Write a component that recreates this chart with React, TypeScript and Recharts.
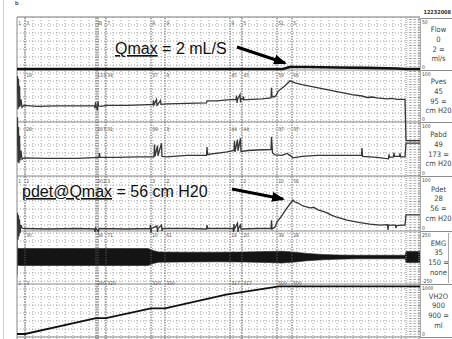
import React from 'react';
import {
  ComposedChart, Line, Area, XAxis, YAxis,
  ReferenceLine, ReferenceArea, ReferenceDot,
} from 'recharts';

// time in seconds along the trace
const eventTimes = [0, 16, 158, 162, 178, 268, 296, 426, 450, 520, 550];

const flowTags = ['1', '3', '3', '3', '7', '9', '9', '9', '5', '51', '5'];
const pvesTags = ['', '18', '133', '', '34', '37', '9', '45', '45', '59', '66'];
const pabdTags = ['', '28', '207', '', '31', '39', '3', '44', '44', '37', '37'];
const pdetTags = ['1', '2', '202', '', '3', '3', '2', '0', '2', '10', '56'];
const emgTags = ['', '30', '38', '', '71', '10', '61', '18', '20', '39', '28'];
const volTags = ['1', '3', '280', '', '320', '320', '330', '317', '317', '500', '500'];

const chanNames = ['Flow', 'Pves', 'Pabd', 'Pdet', 'EMG', 'VH2O'];
const chanNow = ['0', '45', '49', '28', '35', '900'];
const chanScale = ['2 =', '95 =', '173 =', '56 =', '150 =', '900 ='];
const chanUnits = ['ml/s', 'cm H20', 'cm H20', 'cm H20', 'none', 'ml'];
const chanTop = ['50', '100', '100', '100', '250', '1000'];
const chanBottom = ['0', '0', '0', '0', '-250', '0'];

// [t, value]
const flow = [
  [0, 0], [532, 0], [540, 1.2], [546, 2], [580, 2], [640, 1.6], [700, 1.1], [760, 0.5], [778, 0], [806, 0],
];

const pves = [
  [0, 56], [1, 92], [2, 24], [3, 86], [4, 28], [5, 72], [6, 30], [8, 44], [10, 28], [14, 32],
  [40, 30], [80, 31], [120, 31], [150, 31], [155, 31], [156, 26], [157, 38], [158, 31], [161, 22],
  [162, 40], [163, 31], [168, 30], [180, 32], [220, 32], [250, 33], [272, 34], [273, 42], [274, 33],
  [279, 44], [280, 32], [281, 33], [287, 42], [288, 34], [300, 35], [340, 36], [379, 37], [380, 41],
  [400, 41], [420, 43], [438, 44], [439, 52], [440, 37], [441, 44], [446, 54], [447, 38], [448, 46],
  [452, 44], [453, 50], [454, 43], [470, 44], [490, 45], [508, 47], [509, 68], [510, 50], [514, 49],
  [518, 52], [522, 60], [526, 64], [536, 72], [546, 82], [556, 78], [570, 74], [590, 70], [610, 66],
  [630, 62], [650, 58], [670, 54], [690, 51], [700, 48], [710, 49], [720, 47], [730, 46], [740, 45],
  [750, 46], [760, 44], [776, 44], [778, -40], [806, -40],
];

const pabd = [
  [0, 60], [1, 118], [2, 26], [3, 98], [4, 24], [5, 80], [6, 30], [8, 50], [10, 32], [14, 35],
  [60, 34], [120, 34], [164, 36], [165, 45], [166, 36], [200, 36], [240, 37], [274, 37], [275, 62],
  [276, 38], [281, 60], [282, 39], [289, 65], [290, 38], [300, 37], [340, 40], [379, 40], [380, 57],
  [381, 42], [406, 45], [420, 47], [434, 50], [435, 70], [436, 47], [441, 72], [442, 49], [447, 75],
  [448, 48], [462, 50], [480, 51], [508, 52], [509, 78], [511, 45], [516, 41], [530, 40], [540, 44],
  [546, 40], [552, 35], [570, 38], [600, 40], [640, 40], [689, 40], [690, 55], [691, 38], [720, 36],
  [743, 33], [744, 42], [745, 36], [753, 37], [754, 45], [755, 38], [765, 38], [766, 44], [767, 37],
  [776, 37], [778, 65], [806, 65],
];

const pdet = [
  [0, 10], [1, 33], [2, -22], [3, 28], [4, -15], [5, 20], [6, -8], [8, 8], [10, 2], [14, 1],
  [60, 0], [120, 1], [155, 0], [156, -6], [157, 2], [163, -5], [164, 1], [220, 0], [266, 1],
  [267, 8], [268, -8], [269, 1], [280, 6], [281, -6], [282, 1], [289, 8], [290, -4], [291, 1],
  [340, 1], [379, 0], [380, 8], [381, 1], [432, 1], [433, -6], [434, 10], [435, 0], [441, 12],
  [442, -6], [443, 1], [447, 8], [448, 0], [480, 1], [508, 1], [509, 18], [510, 0], [516, 4],
  [520, 14], [526, 22], [530, 28], [540, 43], [552, 59], [556, 55], [562, 53], [572, 47], [586, 43],
  [594, 44], [602, 39], [612, 36], [620, 33], [630, 28], [640, 24], [660, 18], [686, 13], [706, 10],
  [726, 8], [741, 9], [742, -2], [743, 8], [752, 8], [757, 8], [758, 2], [759, 7], [772, 8],
  [776, 8], [778, 29], [806, 29],
];

// [t, low, high] envelope of the EMG band
const emg = [
  [0, -200, 250], [1, -80, 90], [4, -85, 85], [100, -85, 85], [200, -85, 85], [262, -85, 85],
  [272, -65, 65], [284, -52, 50], [330, -50, 48], [400, -48, 48], [452, -50, 50], [500, -55, 55],
  [530, -60, 58], [556, -50, 48], [580, -38, 36], [610, -28, 26], [640, -22, 20], [680, -18, 17],
  [776, -18, 17], [778, -55, 55], [806, -55, 55],
];

const vol = [
  [0, 0], [16, 0], [158, 300], [178, 300], [268, 485], [296, 485], [418, 745], [450, 790], [524, 900], [806, 900],
];

// ---- layout ----
const W = 452;
const H = 339;
const TOP = 17;
const BOTTOM = 339;
const T_MAX = 806;

// domain that puts v0 at pixel y0 and v1 at pixel y1 on the full-height plot
const band = (v0: number, y0: number, v1: number, y1: number): [number, number] => {
  const k = (v1 - v0) / (y0 - y1);
  return [v0 - (BOTTOM - y0) * k, v1 + (y1 - TOP) * k];
};

const channels = [
  { id: 'flow', domain: band(0, 69, 50, 20), tag: 47, tags: flowTags },
  { id: 'pves', domain: band(0, 121, 100, 72), tag: 94, tags: pvesTags },
  { id: 'pabd', domain: band(0, 175, 100, 126), tag: 94, tags: pabdTags },
  { id: 'pdet', domain: band(0, 229, 100, 180), tag: 97, tags: pdetTags },
  { id: 'emg', domain: band(-250, 282, 250, 232), tag: 220, tags: emgTags },
  { id: 'vol', domain: band(0, 334, 1000, 281), tag: 960, tags: volTags },
];

const blockTop = [18, 70, 122, 176, 231, 284];
const blockBottom = [70, 122, 176, 231, 284, 337];

const rulerTicks = Array.from({ length: 98 }, (_, i) => i * 8);
const gridX = Array.from({ length: 48 }, (_, i) => 16 + i * 16);
const gridY = Array.from({ length: 40 }, (_, i) => 25 + i * 8);

const pts = (pairs: number[][]) => pairs.map(([t, v]) => ({ t, v }));

const tagShape = (label: string) => (p: any) => (
  <text x={p.cx + 1.2} y={p.cy + 2} fontSize={5} fill="#555"
    fontFamily="'DejaVu Sans Condensed', sans-serif">{label}</text>
);

const noteShape = (under: string, rest: string) => (p: any) => (
  <text x={p.cx} y={p.cy} fontSize={16} fill="#111" style={{ whiteSpace: 'pre' }}
    fontFamily="'Liberation Sans', Arial, sans-serif">
    <tspan textDecoration="underline">{under}</tspan>{rest}
  </text>
);

const traceColor = '#363636';
const gridColor = '#a2a2a2';

export default function App() {
  const emgData = emg.map(([t, lo, hi]) => ({ t, r: [lo, hi] }));
  const anyZ: any = { zIndex: -100 };

  return (
    <div style={{ position: 'absolute', left: 0, top: 0, width: W, height: H, background: '#fff', overflow: 'hidden' }}>
      <div style={{ position: 'absolute', left: 3, top: 0, width: 1, height: H, background: '#d0d0d0' }} />
      <div style={{ position: 'absolute', left: 15, top: 0, fontSize: 6, lineHeight: '6px', fontWeight: 700, color: '#444', fontFamily: 'Liberation Sans, sans-serif' }}>b</div>

      <div style={{ position: 'absolute', left: 0, top: 0 }}>
        <ComposedChart width={W} height={H} margin={{ top: 0, right: 32, bottom: 0, left: 17 }}>
          <defs>
            <marker id="arrowHead" markerUnits="userSpaceOnUse" markerWidth={13} markerHeight={10}
              refX={11} refY={5} orient="auto">
              <path d="M0,0 L13,5 L0,10 z" fill="#000" />
            </marker>
            <pattern id="bandHatch" width={4.3} height={2.6} patternUnits="userSpaceOnUse">
              <rect width={4.3} height={2.6} fill="#fff" />
              <line x1={0.6} y1={1.3} x2={3.2} y2={1.3} stroke="#8e8e8e" strokeWidth={0.8} />
            </pattern>
          </defs>

          <XAxis xAxisId={0} type="number" dataKey="t" domain={[0, T_MAX]} allowDataOverflow
            height={0} tick={false} axisLine={false} tickLine={false} orientation="bottom" />
          <XAxis xAxisId="ruler" type="number" dataKey="t" domain={[0, T_MAX]} allowDataOverflow
            orientation="top" ticks={rulerTicks} height={17} tick={false} tickSize={3}
            axisLine={{ stroke: '#777' }} tickLine={{ stroke: '#888' }} />
          <YAxis yAxisId={0} type="number" domain={[TOP, BOTTOM]} reversed allowDataOverflow
            width={0} tick={false} axisLine={false} tickLine={false} />
          {channels.map((c) => (
            <YAxis key={c.id} yAxisId={c.id} type="number" domain={c.domain} allowDataOverflow hide />
          ))}

          {/* dotted chart-paper grid */}
          {gridX.map((t) => (
            <ReferenceLine key={'gx' + t} x={t} stroke={gridColor} strokeDasharray="1 2" {...anyZ} />
          ))}
          {gridY.map((y) => (
            <ReferenceLine key={'gy' + y} y={y} stroke={gridColor} strokeDasharray="1 2" {...anyZ} />
          ))}

          <ReferenceArea x1={780} x2={T_MAX} y1={TOP} y2={BOTTOM} fill="url(#bandHatch)" fillOpacity={1}
            ifOverflow="extendDomain" {...anyZ} />

          {[70, 122, 176, 231, 284, 337].map((y) => (
            <ReferenceLine key={'s' + y} y={y} stroke="#8a8a8a" strokeWidth={1} />
          ))}
          <ReferenceLine x={0} stroke="#8a8a8a" />
          {eventTimes.slice(1).map((t) => (
            <ReferenceLine key={'e' + t} x={t} stroke="#555" strokeDasharray="1.4 1.2" />
          ))}
          <ReferenceLine x={778} stroke="#8a8a8a" strokeDasharray="1 1" />
          <ReferenceLine x={804} stroke="#8a8a8a" strokeDasharray="1 1" />

          {channels.map((c) => c.tags.map((label, i) => label ? (
            <ReferenceDot key={c.id + i} x={eventTimes[i]} y={c.tag} yAxisId={c.id} r={0} shape={tagShape(label)} />
          ) : null))}

          <Area data={emgData} dataKey="r" yAxisId="emg" type="linear" stroke="#222" strokeWidth={0.6}
            fill="#141414" fillOpacity={1} dot={false} activeDot={false} isAnimationActive={false} />
          <Line data={pts(pves)} dataKey="v" yAxisId="pves" type="linear" stroke={traceColor} strokeWidth={1.3}
            dot={false} activeDot={false} isAnimationActive={false} />
          <Line data={pts(pabd)} dataKey="v" yAxisId="pabd" type="linear" stroke={traceColor} strokeWidth={1.3}
            dot={false} activeDot={false} isAnimationActive={false} />
          <Line data={pts(pdet)} dataKey="v" yAxisId="pdet" type="linear" stroke={traceColor} strokeWidth={1.3}
            dot={false} activeDot={false} isAnimationActive={false} />
          <Line data={pts(vol)} dataKey="v" yAxisId="vol" type="linear" stroke="#111" strokeWidth={1.8}
            dot={false} activeDot={false} isAnimationActive={false} />
          <Line data={pts(flow)} dataKey="v" yAxisId="flow" type="linear" stroke="#111" strokeWidth={2.6}
            dot={false} activeDot={false} isAnimationActive={false} />

          <ReferenceDot x={196} y={15.3} yAxisId="flow" r={0} shape={noteShape('Qmax', ' = 2 mL/S')} />
          <ReferenceLine yAxisId="flow" segment={[{ x: 440, y: 22.4 }, { x: 536, y: 6.1 }]}
            stroke="#000" strokeWidth={3} markerEnd="url(#arrowHead)" />
          <ReferenceDot x={10} y={65.3} yAxisId="pdet" r={0} shape={noteShape('pdet@Qmax', ' = 56 cm H20')} />
          <ReferenceLine yAxisId="pdet" segment={[{ x: 430, y: 81.6 }, { x: 532, y: 61.2 }]}
            stroke="#000" strokeWidth={3} markerEnd="url(#arrowHead)" />
        </ComposedChart>
      </div>

      <div style={{ position: 'absolute', left: 420, top: 0, width: 32, height: H,
        fontFamily: "'DejaVu Sans Condensed', 'Liberation Sans Narrow', sans-serif", color: '#444' }}>
        <div style={{ position: 'absolute', right: 1, top: 9, fontSize: 5.5, fontWeight: 700, color: '#333' }}>12232008</div>
        {chanNames.map((name, i) => (
          <div key={name} style={{
            position: 'absolute', left: 0, top: blockTop[i], width: 32, height: blockBottom[i] - blockTop[i],
            borderTop: '1px solid #8a8a8a', borderLeft: '1px solid #aaa', boxSizing: 'border-box',
            display: 'flex', flexDirection: 'column', justifyContent: 'center', alignItems: 'center',
            fontSize: 7.5, lineHeight: '9.6px', paddingLeft: 4,
          }}>
            <div>{name}</div>
            <div>{chanNow[i]}</div>
            <div>{chanScale[i]}</div>
            <div>{chanUnits[i]}</div>
            <div style={{ position: 'absolute', left: 1, top: 0, fontSize: 5, lineHeight: '6px' }}>{chanTop[i]}</div>
            <div style={{ position: 'absolute', left: 1, bottom: 0, fontSize: 5, lineHeight: '6px' }}>{chanBottom[i]}</div>
            {name === 'EMG' && (
              <div style={{ position: 'absolute', right: 3, top: 1, bottom: 1, width: 1, background: '#aaa' }} />
            )}
          </div>
        ))}
        <div style={{ position: 'absolute', left: 0, top: 337, width: 32, height: 1, background: '#8a8a8a' }} />
      </div>
    </div>
  );
}
